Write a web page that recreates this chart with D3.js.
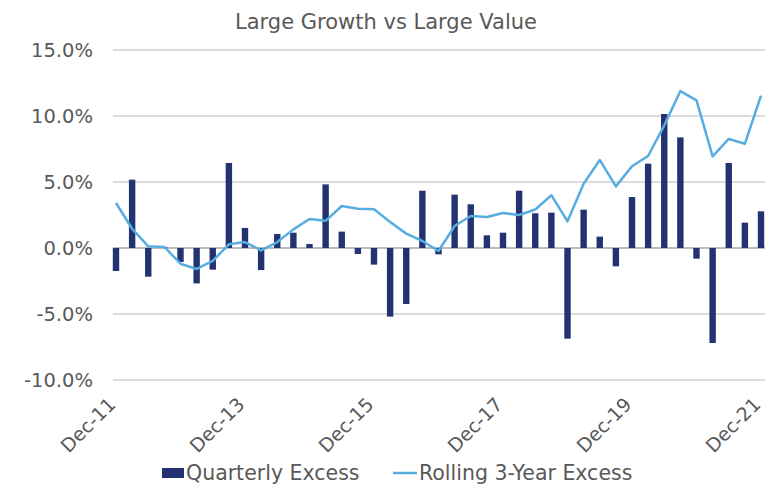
<!DOCTYPE html>
<html>
<head>
<meta charset="utf-8">
<script src="https://cdn.jsdelivr.net/npm/d3@7"></script>
<style>
  body { margin: 0; background: #fff; }
  text { font-family: "DejaVu Sans", sans-serif; fill: #595959; }
</style>
</head>
<body>
<div id="chart"></div>
<script>
// quarters Dec-11 .. Dec-21
const quarters = [];
const yrs = ["11","12","13","14","15","16","17","18","19","20","21"];
const mons = ["Mar","Jun","Sep","Dec"];
quarters.push("Dec-11");
for (let y = 1; y < yrs.length; y++) mons.forEach(m => quarters.push(m + "-" + yrs[y]));

const quarterlyExcess = [
  -1.74, 5.18, -2.17, 0.05, -1.06, -2.68, -1.64, 6.44, 1.52, -1.67,
   1.06, 1.16, 0.30, 4.82, 1.24, -0.45, -1.26, -5.20, -4.24, 4.34,
  -0.48, 4.04, 3.31, 0.96, 1.16, 4.34, 2.63, 2.68, -6.87, 2.90,
   0.86, -1.39, 3.86, 6.39, 10.15, 8.38, -0.81, -7.20, 6.44, 1.92,
   2.78
];
const rolling3Yr = [
   3.41, 1.46, 0.13, 0.08, -1.19, -1.59, -0.98, 0.28, 0.45, -0.18,
   0.45, 1.41, 2.20, 2.06, 3.18, 2.98, 2.93, 1.97, 1.09, 0.53,
  -0.23, 1.67, 2.42, 2.35, 2.65, 2.50, 2.92, 4.00, 2.02, 4.87,
   6.67, 4.67, 6.19, 6.97, 9.29, 11.89, 11.19, 6.94, 8.26, 7.90,
  11.54
];
const yTicks = [-10, -5, 0, 5, 10, 15];
const xLabels = ["Dec-11","Dec-13","Dec-15","Dec-17","Dec-19","Dec-21"];

const width = 766, height = 484;
const svg = d3.select("#chart").append("svg")
  .attr("width", width).attr("height", height);

const x = d3.scalePoint().domain(quarters).range([116, 761]);
const y = d3.scaleLinear().domain([-10, 15]).range([380, 50]);

// title
svg.append("text")
  .attr("x", 386).attr("y", 29)
  .attr("text-anchor", "middle")
  .style("font-size", "21px")
  .text("Large Growth vs Large Value");

// grid
svg.append("g").selectAll("line")
  .data(yTicks).enter().append("line")
  .attr("x1", 113).attr("x2", 765)
  .attr("y1", d => y(d)).attr("y2", d => y(d))
  .attr("stroke", d => d === 0 ? "#a6a6a6" : "#d0d0d0")
  .attr("stroke-width", 1.3);

// y axis labels
svg.append("g").selectAll("text")
  .data(yTicks).enter().append("text")
  .attr("x", 93).attr("y", d => y(d))
  .attr("dy", "0.36em")
  .attr("text-anchor", "end")
  .style("font-size", "19.5px")
  .text(d => d3.format(".1f")(d).replace("\u2212", "-") + "%");

// bars
const bw = 6.4;
svg.append("g").selectAll("rect")
  .data(quarterlyExcess).enter().append("rect")
  .attr("x", (d, i) => x(quarters[i]) - bw / 2)
  .attr("width", bw)
  .attr("y", d => y(Math.max(0, d)))
  .attr("height", d => Math.abs(y(d) - y(0)))
  .attr("fill", "#233270");

// rolling line
const line = d3.line()
  .x((d, i) => x(quarters[i]))
  .y(d => y(d));
svg.append("path")
  .datum(rolling3Yr)
  .attr("d", line)
  .attr("fill", "none")
  .attr("stroke", "#58ade0")
  .attr("stroke-width", 2.5)
  .attr("stroke-linejoin", "round");

// x labels
svg.append("g").selectAll("text")
  .data(xLabels).enter().append("text")
  .attr("transform", d => "translate(" + (x(d) - 4) + ",401) rotate(-45)")
  .attr("text-anchor", "end")
  .attr("dy", "0.35em")
  .style("font-size", "19px")
  .text(d => d);

// legend
const lg = svg.append("g");
lg.append("rect").attr("x", 162).attr("y", 468).attr("width", 22).attr("height", 10).attr("fill", "#233270");
lg.append("text").attr("x", 186).attr("y", 473).attr("dy", "0.36em")
  .style("font-size", "20.5px").text("Quarterly Excess");
lg.append("line").attr("x1", 393).attr("x2", 417).attr("y1", 473).attr("y2", 473)
  .attr("stroke", "#58ade0").attr("stroke-width", 2.5);
lg.append("text").attr("x", 419).attr("y", 473).attr("dy", "0.36em")
  .style("font-size", "20.5px").text("Rolling 3-Year Excess");
</script>
</body>
</html>
